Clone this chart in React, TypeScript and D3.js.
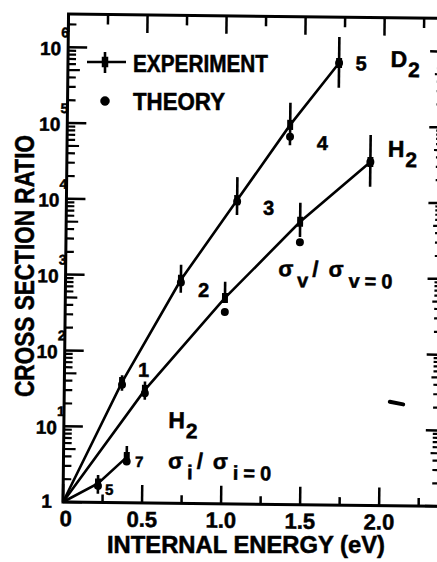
import React from 'react';
import * as d3 from 'd3';

const width = 437, height = 562;
const tilt = 0.65; // the scanned figure sits slightly rotated
const font = 'Liberation Sans, Arial, sans-serif';

// x axis: internal energy (eV)
const xTicks = [0, 0.5, 1.0, 1.5, 2.0];
const xTickLabels = ['0', '0.5', '1.0', '1.5', '2.0'];
const xMinorTicks = [0.25, 0.75, 1.25, 1.75, 2.25];

// y axis: cross section ratio (log)
const yDecades = [1, 10, 100, 1000, 10000, 100000, 1000000];
const yExponents = ['', '1', '2', '3', '4', '5', '6'];

// D2, vibrational levels v = 1..5
const d2Levels = ['1', '2', '3', '4', '5'];
const d2Energy = [0.365, 0.73, 1.08, 1.41, 1.715];
const d2Exp = [39, 890, 10200, 102000, 680000];
const d2Low = [30, 600, 6500, 55000, 320000];
const d2High = [48, 1400, 20500, 200000, 1500000];
const d2Theory = [36, 820, 9800, 71000, 680000];
const d2LabelE = [0.466, 0.84, 1.245, 1.58, 1.82];
const d2LabelR = [46, 530, 6600, 48000, 550000];

// H2, vibrational levels v = 1..4
const h2Energy = [0.51, 1.01, 1.48, 1.92];
const h2Exp = [31, 520, 5400, 34000];
const h2Low = [23, 470, 3400, 16000];
const h2High = [40, 850, 9600, 77000];
const h2Theory = [28, 340, 2900, 34000];

// H2, rotational levels j = 5, 7
const rotLevels = ['5', '7'];
const rotEnergy = [0.22, 0.40];
const rotExp = [1.78, 4.0];
const rotLow = [1.3, 3.2];
const rotHigh = [2.3, 5.6];
const rotTheory = [1.65, 3.5];
const rotLabelE = [0.265, 0.453];
const rotLabelR = [1.26, 2.96];

// species / ratio annotations
const speciesNames = ['D', 'H', 'H'];
const speciesE = [2.04, 2.03, 0.66];
const speciesR = [615000, 40000, 9.8];
const ratioSubs = ['v', 'i'];
const ratioE = [1.345, 0.662];
const ratioR = [1030, 2.9];

// small stray mark on the right
const markE = [2.06, 2.145];
const markR = [23.5, 21.8];

const x = d3.scaleLinear().domain([0, 2.385]).range([63, 440]);
const y = d3.scaleLog().domain([1, Math.pow(10, 6.438)]).range([502, 14]);

const line = d3.line<[number, number]>()
    .x(d => x(d[0]))
    .y(d => y(d[1]));

function Series({ energy, exp, low, high, theory }: any) {
    const pts: [number, number][] = [[0, 1], ...energy.map((e: number, i: number) => [e, exp[i]] as [number, number])];
    return (
        <g>
            <path d={line(pts) || ''} fill="none" stroke="#000" strokeWidth={2.6} />
            {energy.map((e: number, i: number) => (
                <g key={i}>
                    <line x1={x(e)} x2={x(e)} y1={y(low[i])} y2={y(high[i])} stroke="#000" strokeWidth={2.6} />
                    <rect x={x(e) - 3} y={y(exp[i]) - 5} width={6} height={10} fill="#000" />
                    <circle cx={x(e)} cy={y(theory[i])} r={4} fill="#000" />
                </g>
            ))}
        </g>
    );
}

export default function App() {
    // minor log ticks
    const yMinor: number[] = [];
    yDecades.forEach(d => {
        for (let m = 2; m <= 9; m++) {
            if (d * m < y.domain()[1]) yMinor.push(d * m);
        }
    });
    const [x0, x1] = x.range();
    const [yb, yt] = y.range();

    return (
        <svg width={width} height={height} style={{ position: 'absolute', left: 0, top: 0, background: '#fff' }}
            fontFamily={font} fontWeight="bold">
            <rect width={width} height={height} fill="#fff" />
            <g transform={`rotate(${tilt}, ${x0}, ${yb})`}>
                {/* frame */}
                <rect x={x0} y={yt} width={x1 - x0} height={yb - yt} fill="none" stroke="#000" strokeWidth={3} />

                {/* x ticks, bottom and top */}
                {xTicks.map((t, i) => (
                    <g key={'xt' + i}>
                        <line x1={x(t)} x2={x(t)} y1={yb} y2={yb - 18} stroke="#000" strokeWidth={2.5} />
                        <line x1={x(t)} x2={x(t)} y1={yt} y2={yt + 18} stroke="#000" strokeWidth={2.5} />
                        <text x={x(t) + (i === 0 ? 3 : 0)} y={526} fontSize={22} textAnchor="middle"
                            stroke="#000" strokeWidth={0.5}>{xTickLabels[i]}</text>
                    </g>
                ))}
                {xMinorTicks.map((t, i) => (
                    <g key={'xm' + i}>
                        <line x1={x(t)} x2={x(t)} y1={yb} y2={yb - 8} stroke="#000" strokeWidth={2.5} />
                        <line x1={x(t)} x2={x(t)} y1={yt} y2={yt + 10} stroke="#000" strokeWidth={2.5} />
                    </g>
                ))}

                {/* y ticks, left and right */}
                {yDecades.map((d, i) => (
                    <g key={'yd' + i}>
                        <line x1={x0} x2={x0 + 19} y1={y(d)} y2={y(d)} stroke="#000" strokeWidth={2.5} />
                        <line x1={x1} x2={x1 - 15} y1={y(d)} y2={y(d)} stroke="#000" strokeWidth={2.5} />
                        {i === 0 ? (
                            <text x={52} y={y(d) + 6} fontSize={19} textAnchor="end" stroke="#000" strokeWidth={0.5}>1</text>
                        ) : (
                            <g stroke="#000" strokeWidth={0.5}>
                                <text x={56} y={y(d) + 8} fontSize={19} textAnchor="end">10</text>
                                <text x={56} y={y(d) - 10} fontSize={14}>{yExponents[i]}</text>
                            </g>
                        )}
                    </g>
                ))}
                {yMinor.map((d, i) => {
                    const m = Math.round(d / Math.pow(10, Math.floor(Math.log10(d) + 1e-9)));
                    return (
                        <g key={'ym' + i}>
                            <line x1={x0} x2={x0 + (m === 5 ? 12 : 8)} y1={y(d)} y2={y(d)} stroke="#000" strokeWidth={2.2} />
                            <line x1={x1} x2={x1 - (m === 5 ? 10 : 8)} y1={y(d)} y2={y(d)} stroke="#000" strokeWidth={2.2} />
                        </g>
                    );
                })}

                {/* data */}
                <Series energy={d2Energy} exp={d2Exp} low={d2Low} high={d2High} theory={d2Theory} />
                <Series energy={h2Energy} exp={h2Exp} low={h2Low} high={h2High} theory={h2Theory} />
                <Series energy={rotEnergy} exp={rotExp} low={rotLow} high={rotHigh} theory={rotTheory} />

                <g stroke="#000" strokeWidth={0.5}>
                    {/* level numbers */}
                    {d2Levels.map((l, i) => (
                        <text key={'dl' + i} x={x(d2LabelE[i])} y={y(d2LabelR[i])} fontSize={20}>{l}</text>
                    ))}
                    {rotLevels.map((l, i) => (
                        <text key={'rl' + i} x={x(rotLabelE[i])} y={y(rotLabelR[i])} fontSize={15}>{l}</text>
                    ))}

                    {/* species */}
                    {speciesNames.map((s, i) => (
                        <text key={'sp' + i} x={x(speciesE[i])} y={y(speciesR[i])} fontSize={23}>
                            {s}<tspan dx={1} dy={10} fontSize={21}>2</tspan>
                        </text>
                    ))}

                    {/* ratio annotations */}
                    {ratioSubs.map((s, i) => (
                        <text key={'ra' + i} x={x(ratioE[i])} y={y(ratioR[i])} fontSize={22}>
                            σ<tspan dx={4} dy={11} fontSize={20}>{s}</tspan>
                            <tspan dx={4} dy={-11}>/</tspan>
                            <tspan dx={10}>σ</tspan>
                            <tspan dx={5} dy={11} fontSize={20} letterSpacing={5}>{s}=0</tspan>
                        </text>
                    ))}
                </g>

                <line x1={x(markE[0])} y1={y(markR[0])} x2={x(markE[1])} y2={y(markR[1])}
                    stroke="#000" strokeWidth={4} strokeLinecap="round" />
            </g>

            <g stroke="#000" strokeWidth={0.5}>
                {/* legend */}
                <line x1={87} x2={126} y1={62} y2={62} strokeWidth={2.6} />
                <line x1={105} x2={105} y1={52} y2={73} strokeWidth={2.6} />
                <rect x={102} y={57} width={6} height={10} fill="#000" />
                <text x={133} y={72} fontSize={23} textLength={135} lengthAdjust="spacingAndGlyphs">EXPERIMENT</text>
                <circle cx={105} cy={101} r={4.5} fill="#000" />
                <text x={133} y={110} fontSize={23} textLength={92} lengthAdjust="spacingAndGlyphs">THEORY</text>

                {/* axis titles */}
                <text transform="translate(34, 266) rotate(-90)" fontSize={28} textAnchor="middle"
                    textLength={262} lengthAdjust="spacingAndGlyphs">CROSS SECTION RATIO</text>
                <text x={107} y={553} fontSize={23} textLength={278} lengthAdjust="spacingAndGlyphs">INTERNAL ENERGY (eV)</text>
            </g>
        </svg>
    );
}
